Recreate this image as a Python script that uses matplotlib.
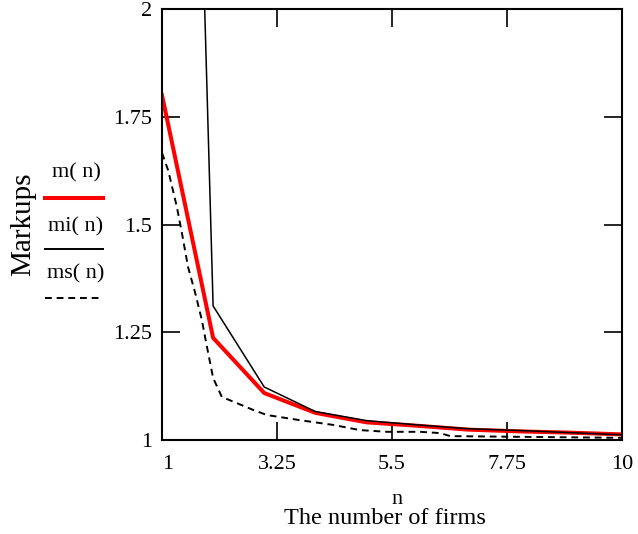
import matplotlib
matplotlib.use("Agg")
import matplotlib.pyplot as plt
from matplotlib.lines import Line2D

plt.rcParams['font.family'] = ['Liberation Serif', 'DejaVu Serif']

# Data
n_int = [1, 2, 3, 4, 5, 6, 7, 8, 9, 10]
m_vals = [1.80, 1.237, 1.109, 1.063, 1.041, 1.033, 1.024, 1.020, 1.017, 1.013]
mi_vals = [5.5, 1.311, 1.123, 1.066, 1.045, 1.035, 1.026, 1.022, 1.017, 1.012]
ms_n = [1.0, 1.12, 1.29, 1.39, 1.51, 1.65, 1.78, 1.88, 2.0, 2.17, 2.78, 3.05,
        3.70, 4.35, 4.87, 5.40, 6.05, 6.44, 6.64, 10.0]
ms_vals = [1.666, 1.626, 1.541, 1.480, 1.401, 1.341, 1.278, 1.216, 1.144, 1.10,
           1.070, 1.058, 1.046, 1.035, 1.023, 1.019, 1.019, 1.016, 1.009, 1.005]

x_ticks = [1, 3.25, 5.5, 7.75, 10]
x_ticklabels = ["1", "3.25", "5.5", "7.75", "10"]
y_ticks = [1, 1.25, 1.5, 1.75, 2]
y_ticklabels = ["1", "1.25", "1.5", "1.75", "2"]

W, H = 638, 534
fig = plt.figure(figsize=(W / 100, H / 100), dpi=100)
ax = fig.add_axes([162 / W, 1 - 440 / H, 460 / W, 431 / H])

ax.plot(ms_n, ms_vals, color='black', lw=1.4, dashes=(3.5, 2.5), zorder=2)
ax.plot(n_int, m_vals, color='#ff0000', lw=2.9, zorder=2.5)
ax.plot(n_int, mi_vals, color='black', lw=1.1, zorder=3)

ax.set_xlim(1, 10)
ax.set_ylim(1, 2)
ax.set_xticks(x_ticks)
ax.set_xticklabels(x_ticklabels)
ax.set_yticks(y_ticks)
ax.set_yticklabels(y_ticklabels)
ax.tick_params(direction='in', length=13, width=1.2, top=True, right=True,
               labelsize=16, colors='black')
ax.tick_params(axis='x', pad=11)
ax.tick_params(axis='y', pad=7)
ax.get_xticklabels()[0].set_ha('left')
for s in ax.spines.values():
    s.set_linewidth(1.5)

# axis labels
fig.text(23 / W, 1 - 224 / H, "Markups", rotation=90, fontsize=21,
         ha='center', va='center')
fig.text(397 / W, 1 - 499 / H, "n", fontsize=16, ha='center', va='center')
fig.text(385 / W, 1 - 518 / H, "The number of firms", fontsize=17.5,
         ha='center', va='center')

# legend (Mathcad style)
labels = ["m( n)", "mi( n)", "ms( n)"]
label_y = [173, 227, 274]
line_y = [198, 249, 298]
styles = [dict(color='#ff0000', lw=2.9),
          dict(color='black', lw=1.4),
          dict(color='black', lw=1.4, dashes=(3.5, 2.5))]
for lab, ly, lny, st in zip(labels, label_y, line_y, styles):
    fig.text(76 / W, 1 - ly / H, lab, fontsize=16, ha='center', va='center')
    fig.add_artist(Line2D([45 / W, 103 / W], [1 - lny / H, 1 - lny / H],
                          transform=fig.transFigure, **st))

fig.savefig("out.png", dpi=100)
